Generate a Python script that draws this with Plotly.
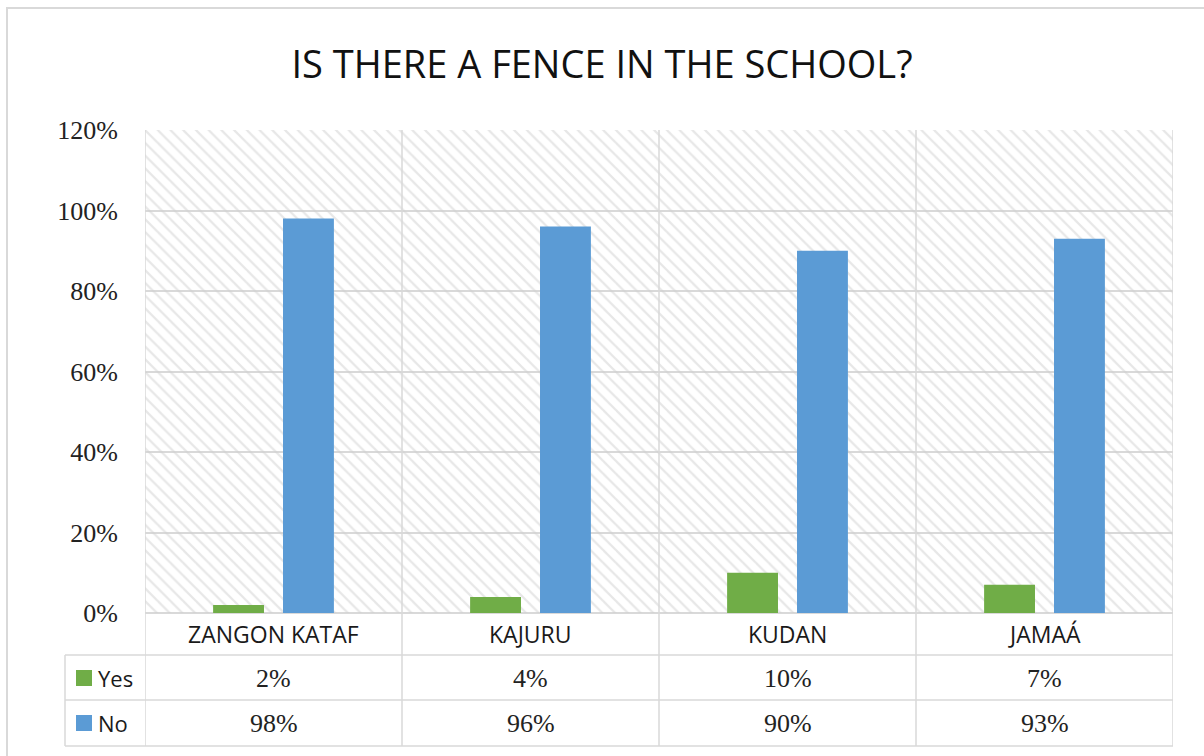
import plotly.graph_objects as go

# ---- data ----
categories = ["ZANGON KATAF", "KAJURU", "KUDAN", "JAMAÁ"]
yes_values = [2, 4, 10, 7]
no_values = [98, 96, 90, 93]
series_names = ["Yes", "No"]
y_ticks = [0, 20, 40, 60, 80, 100, 120]
y_tick_labels = [f"{v}%" for v in y_ticks]
title_text = "IS THERE A FENCE IN THE SCHOOL?"

GREEN = "#70AD47"
BLUE = "#5B9BD5"
LINE = "#D9D9D9"
W, H = 1204, 756
L, R, T, B = 145, 31, 130, 143
PW, PH = W - L - R, H - T - B


def px_x(px):
    return (px - L) / PW


def px_y(py):
    return (H - B - py) / PH


fig = go.Figure()

# hatched plot-area background (one band per category)
fig.add_trace(go.Bar(
    x=categories, y=[max(y_ticks)] * len(categories), width=1, offset=-0.5,
    marker=dict(color="rgba(0,0,0,0)", line=dict(width=0),
                pattern=dict(shape="\\", fgcolor="#CFCFCF", bgcolor="rgba(0,0,0,0)",
                             size=9, solidity=0.25)),
    hoverinfo="skip", showlegend=False))

fig.add_trace(go.Bar(x=categories, y=yes_values, name=series_names[0],
                     width=0.198, offset=-0.235, marker=dict(color=GREEN, line=dict(width=0))))
fig.add_trace(go.Bar(x=categories, y=no_values, name=series_names[1],
                     width=0.198, offset=0.037, marker=dict(color=BLUE, line=dict(width=0))))

shapes = []
bottom = px_y(746)
# vertical category boundaries through plot and table
for i in range(len(categories) + 1):
    shapes.append(dict(type="line", xref="x", yref="paper", x0=i - 0.5, x1=i - 0.5,
                       y0=bottom, y1=1, line=dict(color=LINE, width=1.5)))
# table horizontal lines
for py in (655, 700, 746):
    shapes.append(dict(type="line", xref="paper", yref="paper", x0=px_x(65), x1=1,
                       y0=px_y(py), y1=px_y(py), line=dict(color=LINE, width=1.5)))
# table left border
shapes.append(dict(type="line", xref="paper", yref="paper", x0=px_x(65), x1=px_x(65),
                   y0=px_y(655), y1=bottom, line=dict(color=LINE, width=1.5)))
# legend swatches
for py, col in ((678, GREEN), (723, BLUE)):
    shapes.append(dict(type="rect", xref="paper", yref="paper",
                       x0=px_x(76), x1=px_x(92), y0=px_y(py - 8), y1=px_y(py + 8),
                       fillcolor=col, line=dict(width=0)))
# outer chart frame
shapes.append(dict(type="rect", xref="paper", yref="paper",
                   x0=px_x(7), x1=px_x(1215), y0=px_y(770), y1=px_y(8),
                   line=dict(color="#D9D9D9", width=2), fillcolor="rgba(0,0,0,0)"))

annotations = []
sans = "Open Sans"
serif = "Liberation Serif"
for c in categories:
    annotations.append(dict(x=c, y=px_y(634), xref="x", yref="paper", text=c, showarrow=False,
                            xanchor="center", yanchor="middle",
                            font=dict(family=sans, size=23, color="#1a1a1a")))
for vals, py in ((yes_values, 678), (no_values, 723)):
    for c, v in zip(categories, vals):
        annotations.append(dict(x=c, y=px_y(py), xref="x", yref="paper", text=f"{v}%",
                                xanchor="center", yanchor="middle",
                                showarrow=False, font=dict(family=serif, size=26, color="#222")))
for name, py in zip(series_names, (678, 723)):
    annotations.append(dict(x=px_x(96), y=px_y(py), xref="paper", yref="paper", text=name,
                            xanchor="left", yanchor="middle", showarrow=False,
                            font=dict(family=sans, size=22, color="#1a1a1a")))

fig.update_layout(
    width=W, height=H,
    margin=dict(l=L, r=R, t=T, b=B),
    paper_bgcolor="white", plot_bgcolor="white",
    barmode="overlay", showlegend=False,
    title=dict(text=title_text, x=0.5, xanchor="center", y=1 - 65 / H, yanchor="middle",
               font=dict(family=sans, size=38, color="#111")),
    xaxis=dict(showticklabels=False, showgrid=False, zeroline=False, showline=False,
               range=[-0.5, len(categories) - 0.5], fixedrange=True),
    yaxis=dict(range=[0, max(y_ticks)], tickvals=y_ticks, ticktext=y_tick_labels,
               showgrid=True, gridcolor=LINE, gridwidth=1.5, zeroline=True,
               zerolinecolor=LINE, zerolinewidth=1.5, showline=False,
               ticklabelstandoff=26,
               tickfont=dict(family=serif, size=26, color="#222")),
    shapes=shapes, annotations=annotations,
)

fig.write_html("out.html")
